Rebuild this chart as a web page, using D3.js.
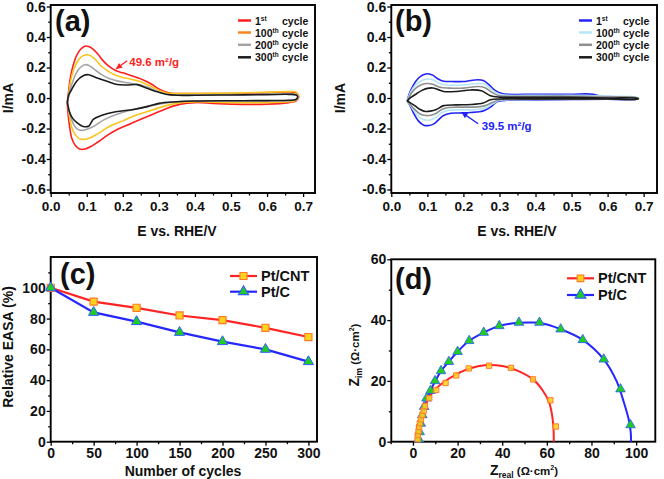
<!DOCTYPE html>
<html><head><meta charset="utf-8">
<script src="https://cdn.jsdelivr.net/npm/d3@7"></script>
<style>
body{margin:0;background:#fff}
svg{display:block}
text{font-family:"Liberation Sans",Arial,Helvetica,sans-serif;font-weight:bold;fill:#111}
</style>
</head><body>
<svg width="664" height="479"></svg>
<script>
// ---------------- DATA ----------------
// Panel (a) Pt/CNT cyclic voltammograms: [E (V vs RHE), I (mA)], closed loops
const cvA1 = [[0.046,-0.03],[0.05,0.05],[0.055,0.14],[0.063,0.22],[0.072,0.28],[0.083,0.32],[0.095,0.34],[0.105,0.338],[0.115,0.325],[0.13,0.29],[0.145,0.245],[0.16,0.21],[0.18,0.18],[0.2,0.165],[0.22,0.15],[0.245,0.13],[0.26,0.115],[0.28,0.09],[0.3,0.06],[0.32,0.04],[0.34,0.03],[0.4,0.03],[0.5,0.03],[0.6,0.035],[0.66,0.04],[0.68,0.035],[0.688,0.01],
  [0.68,-0.02],[0.66,-0.03],[0.6,-0.04],[0.5,-0.04],[0.45,-0.035],[0.4,-0.03],[0.36,-0.04],[0.32,-0.07],[0.28,-0.11],[0.25,-0.14],[0.22,-0.17],[0.19,-0.2],[0.16,-0.24],[0.13,-0.29],[0.11,-0.32],[0.095,-0.335],[0.08,-0.335],[0.068,-0.31],[0.058,-0.26],[0.052,-0.18],[0.048,-0.1],[0.046,-0.03]];
const cvA100 = [[0.047,-0.03],[0.052,0.06],[0.058,0.14],[0.066,0.2],[0.077,0.25],[0.09,0.278],[0.1,0.284],[0.11,0.278],[0.125,0.25],[0.14,0.21],[0.16,0.175],[0.18,0.15],[0.2,0.135],[0.22,0.125],[0.245,0.11],[0.27,0.085],[0.3,0.05],[0.32,0.035],[0.34,0.03],[0.4,0.03],[0.5,0.032],[0.6,0.038],[0.66,0.042],[0.68,0.04],[0.687,0.015],
  [0.68,-0.015],[0.66,-0.025],[0.6,-0.03],[0.5,-0.03],[0.4,-0.025],[0.36,-0.03],[0.32,-0.05],[0.28,-0.08],[0.24,-0.11],[0.2,-0.15],[0.16,-0.19],[0.13,-0.235],[0.11,-0.26],[0.095,-0.27],[0.08,-0.268],[0.068,-0.24],[0.058,-0.19],[0.052,-0.12],[0.047,-0.03]];
const cvA200 = [[0.047,-0.03],[0.052,0.04],[0.06,0.1],[0.07,0.16],[0.082,0.2],[0.095,0.218],[0.105,0.215],[0.12,0.19],[0.14,0.155],[0.16,0.13],[0.18,0.115],[0.2,0.105],[0.225,0.095],[0.25,0.085],[0.27,0.07],[0.3,0.04],[0.32,0.025],[0.35,0.02],[0.4,0.02],[0.5,0.022],[0.6,0.025],[0.66,0.028],[0.68,0.025],[0.686,0.01],
  [0.68,-0.01],[0.66,-0.018],[0.6,-0.02],[0.5,-0.02],[0.4,-0.02],[0.35,-0.025],[0.3,-0.04],[0.26,-0.06],[0.22,-0.08],[0.18,-0.11],[0.15,-0.14],[0.12,-0.185],[0.1,-0.205],[0.085,-0.212],[0.072,-0.2],[0.062,-0.165],[0.055,-0.12],[0.05,-0.07],[0.047,-0.03]];
const cvA300 = [[0.046,-0.03],[0.05,0.02],[0.058,0.055],[0.072,0.11],[0.09,0.146],[0.105,0.153],[0.125,0.135],[0.15,0.115],[0.18,0.09],[0.21,0.085],[0.24,0.088],[0.265,0.066],[0.29,0.045],[0.32,0.025],[0.35,0.018],[0.4,0.018],[0.5,0.02],[0.6,0.022],[0.66,0.024],[0.68,0.02],[0.685,0.008],
  [0.68,-0.01],[0.66,-0.015],[0.6,-0.017],[0.5,-0.018],[0.4,-0.02],[0.35,-0.025],[0.3,-0.035],[0.27,-0.055],[0.23,-0.075],[0.18,-0.09],[0.14,-0.115],[0.118,-0.14],[0.105,-0.185],[0.088,-0.185],[0.072,-0.16],[0.06,-0.13],[0.052,-0.09],[0.046,-0.03]];

// Panel (b) Pt/C cyclic voltammograms
const cvB1 = [[0.044,-0.02],[0.05,0.03],[0.058,0.07],[0.068,0.11],[0.08,0.14],[0.095,0.157],[0.105,0.158],[0.115,0.15],[0.13,0.125],[0.145,0.11],[0.17,0.108],[0.2,0.108],[0.22,0.115],[0.24,0.12],[0.255,0.115],[0.27,0.09],[0.285,0.055],[0.3,0.035],[0.32,0.025],[0.4,0.025],[0.5,0.025],[0.56,0.025],[0.58,0.012],[0.62,0.008],[0.68,0.002],
  [0.68,-0.008],[0.6,-0.008],[0.5,-0.01],[0.4,-0.012],[0.32,-0.015],[0.3,-0.02],[0.29,-0.03],[0.275,-0.06],[0.26,-0.08],[0.245,-0.09],[0.22,-0.095],[0.19,-0.098],[0.165,-0.1],[0.145,-0.115],[0.13,-0.145],[0.118,-0.17],[0.105,-0.18],[0.09,-0.178],[0.075,-0.15],[0.062,-0.1],[0.052,-0.05],[0.044,-0.02]];
const cvB100 = [[0.044,-0.02],[0.052,0.03],[0.062,0.07],[0.075,0.1],[0.09,0.12],[0.1,0.125],[0.115,0.12],[0.13,0.1],[0.15,0.085],[0.2,0.085],[0.24,0.095],[0.26,0.09],[0.28,0.05],[0.3,0.025],[0.32,0.018],[0.4,0.018],[0.5,0.018],[0.6,0.012],[0.68,0.004],
  [0.68,-0.006],[0.6,-0.006],[0.5,-0.008],[0.4,-0.01],[0.32,-0.012],[0.3,-0.015],[0.28,-0.04],[0.26,-0.065],[0.24,-0.075],[0.2,-0.078],[0.16,-0.08],[0.14,-0.095],[0.125,-0.125],[0.11,-0.142],[0.095,-0.145],[0.08,-0.13],[0.065,-0.09],[0.053,-0.05],[0.044,-0.02]];
const cvB200 = [[0.044,-0.02],[0.055,0.03],[0.068,0.065],[0.085,0.088],[0.1,0.095],[0.115,0.09],[0.135,0.07],[0.16,0.065],[0.2,0.065],[0.24,0.075],[0.26,0.068],[0.28,0.035],[0.3,0.015],[0.32,0.012],[0.4,0.012],[0.5,0.012],[0.6,0.008],[0.68,0.002],
  [0.68,-0.006],[0.6,-0.006],[0.5,-0.007],[0.4,-0.008],[0.32,-0.01],[0.3,-0.012],[0.28,-0.03],[0.26,-0.05],[0.24,-0.058],[0.2,-0.06],[0.16,-0.062],[0.14,-0.075],[0.125,-0.1],[0.11,-0.113],[0.095,-0.115],[0.08,-0.105],[0.065,-0.075],[0.053,-0.045],[0.044,-0.02]];
const cvB300 = [[0.044,-0.02],[0.055,0.005],[0.07,0.028],[0.085,0.05],[0.1,0.063],[0.115,0.066],[0.13,0.055],[0.145,0.043],[0.18,0.043],[0.22,0.053],[0.25,0.048],[0.275,0.015],[0.3,0.006],[0.4,0.005],[0.5,0.004],[0.6,0.0],[0.685,-0.002],
  [0.685,-0.006],[0.6,-0.006],[0.5,-0.006],[0.4,-0.006],[0.3,-0.006],[0.275,-0.012],[0.255,-0.033],[0.22,-0.043],[0.18,-0.045],[0.145,-0.05],[0.125,-0.075],[0.108,-0.086],[0.095,-0.088],[0.08,-0.075],[0.065,-0.05],[0.052,-0.03],[0.044,-0.02]];

const cycleNums = ["1","100","200","300"];
const cycleSups = ["st","th","th","th"];
const cvXTicks = [0,0.1,0.2,0.3,0.4,0.5,0.6,0.7];
const cvXMinor = [0.05,0.15,0.25,0.35,0.45,0.55,0.65];
const cvYTicks = [-0.6,-0.4,-0.2,0,0.2,0.4,0.6];
const cvYMinor = [-0.5,-0.3,-0.1,0.1,0.3,0.5];
const easaA = "49.6 m²/g", easaB = "39.5 m²/g";

// Panel (c) relative EASA
const nCycles = [0,50,100,150,200,250,300];
const easaPtCNT = [100,91,87,82,79,74,68];
const easaPtC = [100,84,78,71,65,60,52];
const cXTicks = [0,50,100,150,200,250,300];
const cXMinor = [25,75,125,175,225,275];
const cYTicks = [0,20,40,60,80,100];
const cYMinor = [10,30,50,70,90,110];

// Panel (d) Nyquist plots: [Zreal, Zim]
const eisPtCNT = [[2.1,0.8],[2.2,2.2],[2.5,3.5],[2.8,4.8],[3.1,6.1],[3.6,7.4],[4.2,8.8],[4.8,10.2],[5.4,11.7],[7.3,14.3],[10.4,17.0],[14.6,19.3],[19.4,21.8],[25,24.1],[34.1,25.0],[43.9,24.3],[53.8,20.5],[61.6,13.6],[64.0,5.0]];
const eisPtC = [[2.6,0.8],[3.0,3.2],[3.5,6.0],[4.2,8.8],[5.0,11.5],[6.1,14.3],[7.9,16.8],[9.9,20.0],[12.6,23.3],[16.1,26.3],[20.0,29.6],[25.2,33.2],[31.7,35.9],[38.7,38.1],[47.5,39.2],[56.7,39.2],[66.2,37.0],[76.1,33.5],[85.5,27.1],[93.0,17.3],[97.5,5.5]];
const fitPtCNT = [[1.5,0],[2,3],[3,6.5],[4.5,10],[6.5,13.5],[9.5,16.8],[14,19.7],[19,22],[25,24],[33,25.2],[40,24.9],[47,23.3],[53.8,20.5],[58,17],[61,13],[62.5,8],[63,4],[63.1,0]];
const fitPtC = [[1.9,0],[2.5,3],[3.5,6.5],[5,10.5],[6.5,14],[8,17],[10,20],[12.6,23.2],[16,26.3],[20,29.6],[25.2,33.2],[31.7,35.9],[38.7,38.1],[47.5,39.1],[52,39.2],[56.7,39.1],[66.2,37.0],[76.1,33.5],[85.5,27.1],[91.2,20],[94.5,13],[96.8,7],[97.6,3],[97.7,0]];
const dXTicks = [0,20,40,60,80,100];
const dXMinor = [-10,10,30,50,70,90];
const dYTicks = [0,20,40,60];
const dYMinor = [10,30,50];
const seriesNames = ["Pt/CNT","Pt/C"];

// ---------------- DRAWING ----------------
const svg = d3.select("svg");

const xA = d3.scaleLinear().domain([0,0.733]).range([50.7,315]);
const yA = d3.scaleLinear().domain([-0.623,0.61]).range([193,5]);
const xB = d3.scaleLinear().domain([0,0.737]).range([391.3,657]);
const yB = d3.scaleLinear().domain([-0.623,0.61]).range([193,5]);
const xC = d3.scaleLinear().domain([0,310]).range([50.7,317]);
const yC = d3.scaleLinear().domain([0,120]).range([441.7,257]);
const xD = d3.scaleLinear().domain([-9.7,108.6]).range([391.3,655.3]);
const yD = d3.scaleLinear().domain([0,60]).range([441.7,259.3]);

const fmt1 = d => (d<0?"-":"") + Math.abs(d).toFixed(1);
const fmt0 = d => String(d);

function axes(x, y, o){
  const [x0,x1] = x.range(), [y0,y1] = y.range();
  const mk = (gen, tr, vals, size, fmt, pad, fs) => {
    const g = svg.append("g").attr("transform", tr)
      .call(gen.tickValues(vals).tickSize(size).tickSizeOuter(0).tickPadding(pad).tickFormat(fmt));
    g.select(".domain").remove();
    g.selectAll(".tick line").attr("stroke","#000").attr("stroke-width",1.3);
    g.selectAll(".tick text").attr("fill","#111").style("font-size", fs+"px").style("font-weight","bold")
      .style("font-family",'"Liberation Sans",Arial,sans-serif');
    return g;
  };
  mk(d3.axisBottom(x), `translate(0,${y0})`, o.xMinor, 2.5, () => "", 0, 10);
  mk(d3.axisBottom(x), `translate(0,${y0})`, o.xTicks, 4, o.xFmt, o.xPad, o.xfs);
  mk(d3.axisLeft(y), `translate(${x0},0)`, o.yMinor, 2.5, () => "", 0, 10);
  mk(d3.axisLeft(y), `translate(${x0},0)`, o.yTicks, 4, o.yFmt, o.yPad, o.yfs);
  svg.append("rect").attr("x",x0).attr("y",y1).attr("width",x1-x0).attr("height",y0-y1)
    .attr("fill","none").attr("stroke","#000").attr("stroke-width",1.9);
}

const cvOpts = {xTicks:cvXTicks,xMinor:cvXMinor,yTicks:cvYTicks,yMinor:cvYMinor,xFmt:fmt1,yFmt:fmt1,xfs:13.5,yfs:14,xPad:4,yPad:1};
axes(xA,yA,cvOpts);
axes(xB,yB,cvOpts);
axes(xC,yC,{xTicks:cXTicks,xMinor:cXMinor,yTicks:cYTicks,yMinor:cYMinor,xFmt:fmt0,yFmt:fmt0,xfs:14,yfs:14,xPad:2,yPad:1});
axes(xD,yD,{xTicks:dXTicks,xMinor:dXMinor,yTicks:dYTicks,yMinor:dYMinor,xFmt:fmt0,yFmt:fmt0,xfs:14,yfs:14,xPad:2,yPad:1});

// CV curves
function cvPanel(x, y, curves, colors, legendColors, lx, annot){
  const line = d3.line().x(d=>x(d[0])).y(d=>y(d[1])).curve(d3.curveCatmullRom.alpha(0.5));
  curves.forEach((c,i)=>{
    svg.append("path").datum(c).attr("d",line).attr("fill","none")
      .attr("stroke",colors[i]).attr("stroke-width",1.6).attr("stroke-linejoin","round");
  });
  const rows = [20.5,32.5,44.8,57.3];
  cycleNums.forEach((n,i)=>{
    svg.append("line").attr("x1",lx).attr("x2",lx+13).attr("y1",rows[i]).attr("y2",rows[i])
      .attr("stroke",legendColors[i]).attr("stroke-width",2.5);
    const t = svg.append("text").attr("x",lx+17).attr("y",rows[i]+4).style("font-size","10.5px");
    t.append("tspan").text(n);
    t.append("tspan").attr("dy",-4).style("font-size","6.5px").text(cycleSups[i]);
    t.append("tspan").attr("x",lx+44).attr("dy",4).text("cycle");
  });
  const [txv,tyv,ax1,ay1,ax2,ay2,col,label] = annot;
  svg.append("line").attr("x1",x(ax1)).attr("y1",y(ay1)).attr("x2",x(ax2)).attr("y2",y(ay2))
    .attr("stroke",col).attr("stroke-width",1.3);
  const ang = Math.atan2(y(ay2)-y(ay1), x(ax2)-x(ax1));
  const hx = x(ax2), hy = y(ay2), L=6, W=3;
  const pts = [[hx,hy],[hx-L*Math.cos(ang)+W*Math.sin(ang), hy-L*Math.sin(ang)-W*Math.cos(ang)],
               [hx-L*Math.cos(ang)-W*Math.sin(ang), hy-L*Math.sin(ang)+W*Math.cos(ang)]];
  svg.append("polygon").attr("points",pts.map(p=>p.join(",")).join(" ")).attr("fill",col);
  svg.append("text").attr("x",x(txv)).attr("y",y(tyv)).style("font-size","11.5px").style("fill",col).text(label);
}

cvPanel(xA,yA,[cvA1,cvA100,cvA200,cvA300],
  ["#ff1e1e","#f7c51e","#a4a4a4","#1c1c1c"],
  ["#ff1e1e","#f7861e","#a4a4a4","#1c1c1c"], 238,
  [0.218,0.212,0.212,0.245,0.181,0.19,"#ff1e1e",easaA]);
cvPanel(xB,yB,[cvB1,cvB100,cvB200,cvB300],
  ["#2323f5","#b4e6f5","#8f8f8f","#1c1c1c"],
  ["#2323f5","#b4e6f5","#8f8f8f","#1c1c1c"], 579,
  [0.251,-0.208,0.241,-0.169,0.195,-0.094,"#2323f5",easaB]);

// Panel (c)
const lineC = d3.line().x(d=>xC(d[0])).y(d=>yC(d[1]));
const cnt = nCycles.map((n,i)=>[n,easaPtCNT[i]]);
const ptc = nCycles.map((n,i)=>[n,easaPtC[i]]);
const red = "#ff2424", blue = "#2626ff";
const sqFill = "#ffd21e", sqStroke = "#ff7a2a", triFill = "#22cc22", triStroke = "#2a5cff";
const sym = (type,size)=>d3.symbol().type(type).size(size);
svg.append("path").datum(cnt).attr("d",lineC).attr("fill","none").attr("stroke",red).attr("stroke-width",2.2);
svg.append("path").datum(ptc).attr("d",lineC).attr("fill","none").attr("stroke",blue).attr("stroke-width",2.2);
svg.selectAll(null).data(cnt).join("path").attr("d",sym(d3.symbolSquare,50)())
  .attr("transform",d=>`translate(${xC(d[0])},${yC(d[1])})`).attr("fill",sqFill).attr("stroke",sqStroke).attr("stroke-width",1.2);
svg.selectAll(null).data(ptc).join("path").attr("d",sym(d3.symbolTriangle,45)())
  .attr("transform",d=>`translate(${xC(d[0])},${yC(d[1])})`).attr("fill",triFill).attr("stroke",triStroke).attr("stroke-width",1);

// Panel (d)
const lineD = d3.line().x(d=>xD(d[0])).y(d=>yD(d[1])).curve(d3.curveCatmullRom.alpha(0.5));
svg.append("path").datum(fitPtC).attr("d",lineD).attr("fill","none").attr("stroke",blue).attr("stroke-width",2);
svg.append("path").datum(fitPtCNT).attr("d",lineD).attr("fill","none").attr("stroke",red).attr("stroke-width",2);
svg.selectAll(null).data(eisPtC).join("path").attr("d",sym(d3.symbolTriangle,40)())
  .attr("transform",d=>`translate(${xD(d[0])},${yD(d[1])})`).attr("fill",triFill).attr("stroke",triStroke).attr("stroke-width",0.8);
svg.selectAll(null).data(eisPtCNT).join("path").attr("d",sym(d3.symbolSquare,28)())
  .attr("transform",d=>`translate(${xD(d[0])},${yD(d[1])})`).attr("fill",sqFill).attr("stroke",sqStroke).attr("stroke-width",1).attr("fill-opacity",0.85);

// legends (c),(d)
function legend2(lx, rows, symSize){
  [[red,sqFill,sqStroke,d3.symbolSquare],[blue,triFill,triStroke,d3.symbolTriangle]].forEach((s,i)=>{
    svg.append("line").attr("x1",lx).attr("x2",lx+27).attr("y1",rows[i]).attr("y2",rows[i]).attr("stroke",s[0]).attr("stroke-width",2.2);
    svg.append("path").attr("d",sym(s[3],symSize[i])()).attr("transform",`translate(${lx+13.5},${rows[i]})`)
      .attr("fill",s[1]).attr("stroke",s[2]).attr("stroke-width",1.1);
    svg.append("text").attr("x",lx+31).attr("y",rows[i]+5).style("font-size","14.5px").text(seriesNames[i]);
  });
}
legend2(230,[276,291.7],[50,45]);
legend2(567,[278.3,295],[45,50]);

// panel labels
[["(a)",55,31],["(b)",395,31],["(c)",60,284],["(d)",395,289]].forEach(p=>{
  svg.append("text").attr("x",p[1]).attr("y",p[2]).style("font-size","29px").text(p[0]);
});

// axis titles
function title(txt,x,y,rot,fs){
  return svg.append("text").attr("text-anchor","middle").style("font-size",(fs||14)+"px")
    .attr("transform",`translate(${x},${y})${rot?" rotate(-90)":""}`).text(txt);
}
title("E vs. RHE/V",177,236);
title("E vs. RHE/V",517,236);
title("I/mA",13,98,true);
title("I/mA",345,98,true);
title("Number of cycles",183,476);
title("Relative EASA (%)",13,347,true);

// (d) titles with sub/superscripts
function zTitle(tr, sub){
  const t = svg.append("text").attr("text-anchor","middle").attr("transform",tr).style("font-size","14px");
  t.append("tspan").text("Z");
  t.append("tspan").attr("dy",3).style("font-size","8.5px").text(sub);
  t.append("tspan").attr("dy",-3).style("font-size","11.5px").text(" (Ω·cm");
  t.append("tspan").attr("dy",-5).style("font-size","7px").text("2");
  t.append("tspan").attr("dy",5).style("font-size","11.5px").text(")");
}
zTitle("translate(524,475)","real");
zTitle("translate(359,355) rotate(-90)","im");
</script>
</body></html>
